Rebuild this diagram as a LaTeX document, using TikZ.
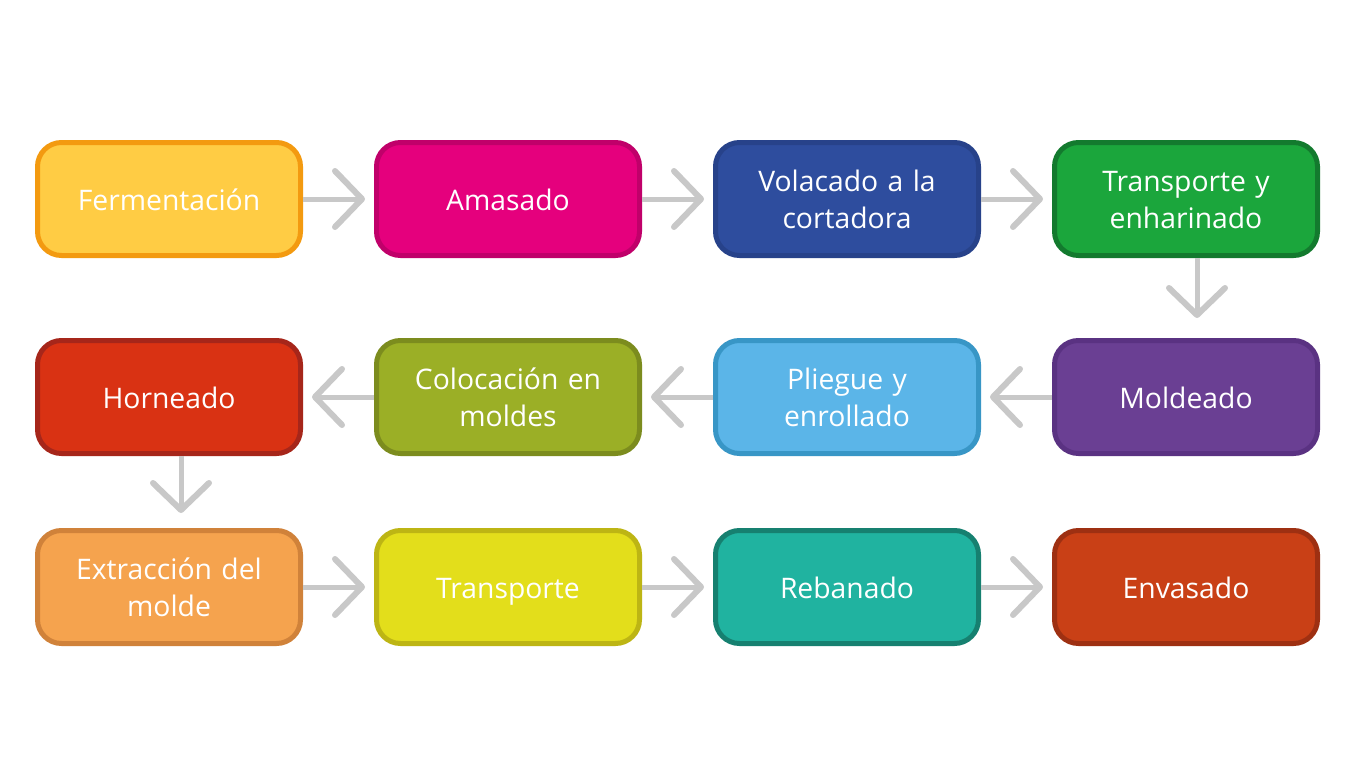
\documentclass[tikz,border=0pt]{standalone}
\usepackage{fontspec}
\setmainfont{Open Sans}
\usetikzlibrary{arrows.meta}
\definecolor{f1}{HTML}{FFCC44}\definecolor{b1}{HTML}{F39A10}
\definecolor{f2}{HTML}{E5007D}\definecolor{b2}{HTML}{C0006A}
\definecolor{f3}{HTML}{2E4D9E}\definecolor{b3}{HTML}{27428A}
\definecolor{f4}{HTML}{1BA63C}\definecolor{b4}{HTML}{137A2E}
\definecolor{f5}{HTML}{6A3F93}\definecolor{b5}{HTML}{5A3282}
\definecolor{f6}{HTML}{5BB5E8}\definecolor{b6}{HTML}{3896C6}
\definecolor{f7}{HTML}{9BAF26}\definecolor{b7}{HTML}{7C8C1E}
\definecolor{f8}{HTML}{D93213}\definecolor{b8}{HTML}{A6261A}
\definecolor{f9}{HTML}{F5A34E}\definecolor{b9}{HTML}{D0823A}
\definecolor{f10}{HTML}{E3DE1B}\definecolor{b10}{HTML}{BDB514}
\definecolor{f11}{HTML}{20B3A0}\definecolor{b11}{HTML}{168070}
\definecolor{f12}{HTML}{C94016}\definecolor{b12}{HTML}{9E3012}
\definecolor{arrgray}{HTML}{C8C8C8}
\newcommand\mytopstrut{\rule{0pt}{33.9pt}}
\newcommand\mybotstrut{\rule[-11.1pt]{0pt}{11.1pt}}
\tikzset{
  stepbox/.style n args={2}{draw=#2, fill=#1, line width=5pt, rounded corners=24pt,
    minimum width=263pt, minimum height=113pt, inner sep=0pt, text width=255pt,
    align=center, text=white, font=\fontsize{28.3}{37}\selectfont,
    execute at begin node=\mytopstrut, execute at end node=\mybotstrut},
  arr/.style={draw=arrgray, line width=5pt,
    -{Straight Barb[length=27pt, width=56pt, line width=6pt, round]}},
}
\begin{document}
\begin{tikzpicture}[x=1pt, y=-1pt]
\useasboundingbox (0,0) rectangle (1366,768);
\fill[white] (0,0) rectangle (1366,768);
\node[stepbox={f1}{b1}]  (n1)  at (169,199) {Fermentación};
\node[stepbox={f2}{b2}]  (n2)  at (508,199) {Amasado};
\node[stepbox={f3}{b3}]  (n3)  at (847,199) {Volacado a la\\cortadora};
\node[stepbox={f4}{b4}]  (n4)  at (1186,199) {Transporte y\\enharinado};
\node[stepbox={f5}{b5}]  (n5)  at (1186,397) {Moldeado};
\node[stepbox={f6}{b6}]  (n6)  at (847,397) {Pliegue y\\enrollado};
\node[stepbox={f7}{b7}]  (n7)  at (508,397) {Colocación en\\moldes};
\node[stepbox={f8}{b8}]  (n8)  at (169,397) {Horneado};
\node[stepbox={f9}{b9}]  (n9)  at (169,587) {Extracción del\\molde};
\node[stepbox={f10}{b10}] (n10) at (508,587) {Transporte};
\node[stepbox={f11}{b11}] (n11) at (847,587) {Rebanado};
\node[stepbox={f12}{b12}] (n12) at (1186,587) {Envasado};
\draw[arr, shorten >=9pt] (n1.east) -- (n2.west);
\draw[arr, shorten >=9pt] (n2.east) -- (n3.west);
\draw[arr, shorten >=9pt] (n3.east) -- (n4.west);
\draw[arr, shorten >=20pt] ([xshift=11pt]n4.south) -- ([xshift=11pt]n5.north);
\draw[arr, shorten >=9pt] (n5.west) -- (n6.east);
\draw[arr, shorten >=9pt] (n6.west) -- (n7.east);
\draw[arr, shorten >=9pt] (n7.west) -- (n8.east);
\draw[arr, shorten >=15pt] ([xshift=12pt]n8.south) -- ([xshift=12pt]n9.north);
\draw[arr, shorten >=9pt] (n9.east) -- (n10.west);
\draw[arr, shorten >=9pt] (n10.east) -- (n11.west);
\draw[arr, shorten >=9pt] (n11.east) -- (n12.west);
\end{tikzpicture}
\end{document}
